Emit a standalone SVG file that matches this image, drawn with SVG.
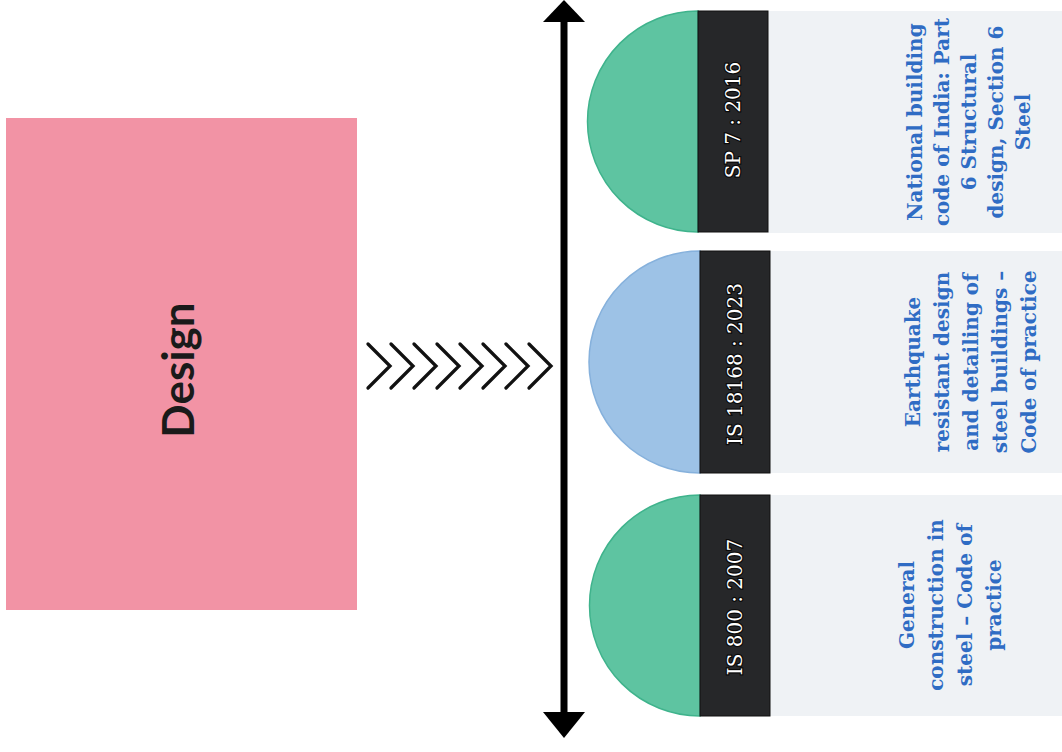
<svg xmlns="http://www.w3.org/2000/svg" width="1062" height="752" viewBox="0 0 1062 752">
<style>
.panel{fill:#EFF2F5}
.strip{fill:#262729;stroke:#111;stroke-width:1}
.green{fill:#5EC4A1;stroke:#3FB38C;stroke-width:1.5}
.blue{fill:#9DC2E6;stroke:#86B1DC;stroke-width:1.5}
.code{font-family:"DejaVu Serif","Liberation Serif",serif;font-size:20px;fill:#fff;stroke:#0a0a0a;stroke-width:2.5;paint-order:stroke;text-anchor:middle}
.desc{font-family:"DejaVu Serif","Liberation Serif",serif;font-size:20px;font-weight:bold;fill:#2F6CC4;text-anchor:middle}
.chev{fill:none;stroke:#111;stroke-width:3.3;stroke-linecap:round;stroke-linejoin:miter}
</style>
<rect width="1062" height="752" fill="#fff"/>
<g id="design">
<rect x="6" y="118" width="351" height="492" fill="#F293A5"/>
<text transform="translate(194,370) rotate(-90)" font-family="Lato,'Liberation Sans',sans-serif" font-size="44" font-weight="bold" fill="#1a1a1a" text-anchor="middle">Design</text>
</g>
<g id="connectors">
<line x1="564" y1="18" x2="564" y2="716" stroke="#000" stroke-width="7"/>
<polygon points="564,0 543,22 585,22" fill="#000"/>
<polygon points="564,738 543,712 585,712" fill="#000"/>
<g class="chev">
<polyline points="368,344 390,366 368,388"/>
<polyline points="391,344 413,366 391,388"/>
<polyline points="414,344 436,366 414,388"/>
<polyline points="437,344 459,366 437,388"/>
<polyline points="460,344 482,366 460,388"/>
<polyline points="483,344 505,366 483,388"/>
<polyline points="506,344 528,366 506,388"/>
<polyline points="529,344 551,366 529,388"/>
</g>
</g>
<g id="sp7">
<rect class="panel" x="768" y="11" width="294" height="222"/>
<path class="green" d="M698,11 A110.5,110.5 0 0 0 698,232 Z"/>
<rect class="strip" x="698" y="11" width="70" height="221"/>
<text class="code" transform="translate(740,120) rotate(-90)">SP 7 : 2016</text>
<text class="desc" transform="translate(922,122) rotate(-90)"><tspan x="0" y="0">National building</tspan><tspan x="0" y="27">code of India: Part</tspan><tspan x="0" y="54">6 Structural</tspan><tspan x="0" y="81">design, Section 6</tspan><tspan x="0" y="108">Steel</tspan></text>
</g>
<g id="is18168">
<rect class="panel" x="770" y="251" width="292" height="222"/>
<path class="blue" d="M700,251 A111,111 0 0 0 700,473 Z"/>
<rect class="strip" x="700" y="251" width="70" height="222"/>
<text class="code" transform="translate(742,364) rotate(-90)">IS 18168 : 2023</text>
<text class="desc" transform="translate(920,362) rotate(-90)"><tspan x="0" y="0">Earthquake</tspan><tspan x="0" y="29">resistant design</tspan><tspan x="0" y="58">and detailing of</tspan><tspan x="0" y="87">steel buildings –</tspan><tspan x="0" y="116">Code of practice</tspan></text>
</g>
<g id="is800">
<rect class="panel" x="770" y="495" width="292" height="221"/>
<path class="green" d="M700,495 A110.5,110.5 0 0 0 700,716 Z"/>
<rect class="strip" x="700" y="495" width="70" height="221"/>
<text class="code" transform="translate(742,607) rotate(-90)">IS 800 : 2007</text>
<text class="desc" transform="translate(914,605) rotate(-90)"><tspan x="0" y="0">General</tspan><tspan x="0" y="29">construction in</tspan><tspan x="0" y="58">steel – Code of</tspan><tspan x="0" y="87">practice</tspan></text>
</g>
</svg>
